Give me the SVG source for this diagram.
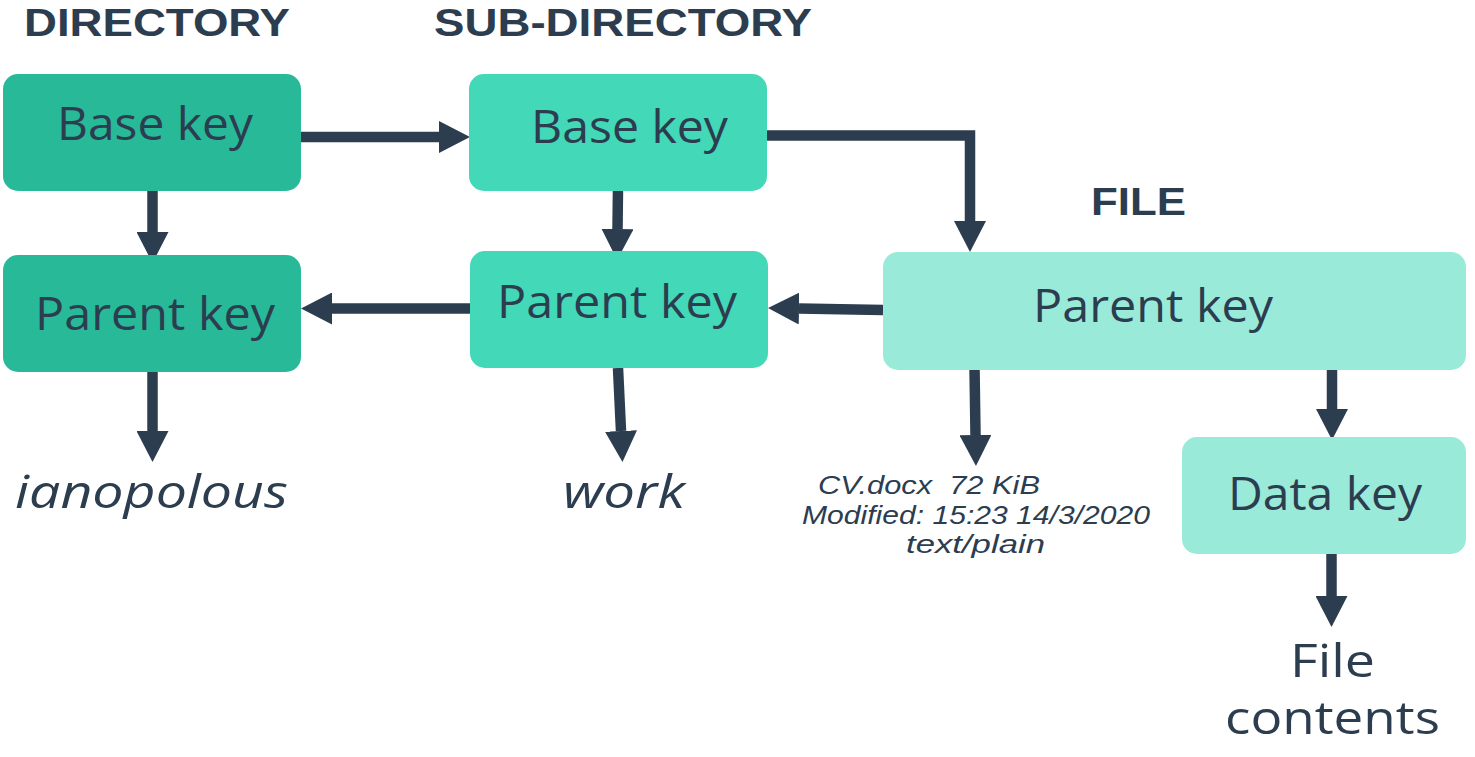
<svg xmlns="http://www.w3.org/2000/svg" width="1475" height="757" viewBox="0 0 1475 757">
<style>
.t{font-family:"Open Sans","Noto Sans",sans-serif;fill:#2C3D4F;text-anchor:middle;white-space:pre}
.h{font-family:"Liberation Sans",Arial,sans-serif;font-weight:bold;font-size:39px}
.k{font-size:46px}
.i{font-style:italic}
.m{font-family:"Liberation Sans",Arial,sans-serif;font-size:26px;font-style:italic}
.c{fill:none;stroke:#2C3D4F;stroke-width:10.5;marker-end:url(#ah)}
.d1{fill:#28B999}
.d2{fill:#42D8B8}
.d3{fill:#9AEAD9}
</style>
<defs>
<marker id="ah" viewBox="0 0 31 32" markerWidth="31" markerHeight="32" refX="0" refY="16" orient="auto" markerUnits="userSpaceOnUse">
<path d="M0,0 L31,16 L0,32 Z" fill="#2C3D4F"/>
</marker>
</defs>
<g id="titles">
<text class="t h" x="157" y="36" textLength="266" lengthAdjust="spacingAndGlyphs">DIRECTORY</text>
<text class="t h" x="623" y="36" textLength="378" lengthAdjust="spacingAndGlyphs">SUB-DIRECTORY</text>
<text class="t h" x="1138.5" y="215" textLength="95" lengthAdjust="spacingAndGlyphs">FILE</text>
</g>
<g id="connectors">
<path class="c" d="M301,137 H439"/>
<path class="c" d="M152.5,191 V232"/>
<path class="c" d="M152.5,372 V431"/>
<path class="c" d="M470,308.5 H332"/>
<path class="c" d="M618,188 L617.5,229"/>
<path class="c" d="M767,135.5 H970 V221"/>
<path class="c" d="M883,310 L799,308.5"/>
<path class="c" d="M618,368 L621,431"/>
<path class="c" d="M974.5,367 L975.5,435"/>
<path class="c" d="M1332,369 V409"/>
<path class="c" d="M1331.5,554 V596"/>
</g>
<g id="dir-base">
<rect class="d1" x="3" y="74" width="298" height="117" rx="15"/>
<text class="t k" x="155" y="140" textLength="196" lengthAdjust="spacingAndGlyphs">Base key</text>
</g>
<g id="dir-parent">
<rect class="d1" x="3" y="255" width="298" height="117" rx="15"/>
<text class="t k" x="155" y="330" textLength="240" lengthAdjust="spacingAndGlyphs">Parent key</text>
</g>
<g id="sub-base">
<rect class="d2" x="469" y="74" width="298" height="117" rx="15"/>
<text class="t k" x="629.5" y="143" textLength="197" lengthAdjust="spacingAndGlyphs">Base key</text>
</g>
<g id="sub-parent">
<rect class="d2" x="470" y="251" width="298" height="117" rx="15"/>
<text class="t k" x="617" y="318" textLength="240" lengthAdjust="spacingAndGlyphs">Parent key</text>
</g>
<g id="file-parent">
<rect class="d3" x="883" y="252" width="583" height="118" rx="15"/>
<text class="t k" x="1153" y="322" textLength="240" lengthAdjust="spacingAndGlyphs">Parent key</text>
</g>
<g id="data-key">
<rect class="d3" x="1182" y="437" width="284" height="117" rx="15"/>
<text class="t k" x="1325" y="510" textLength="194" lengthAdjust="spacingAndGlyphs">Data key</text>
</g>
<g id="ianopolous">
<text class="t k i" x="151.5" y="508" textLength="273" lengthAdjust="spacingAndGlyphs">ianopolous</text>
</g>
<g id="work">
<text class="t k i" x="624" y="508" textLength="122" lengthAdjust="spacingAndGlyphs">work</text>
</g>
<g id="metadata">
<text class="t m" x="929" y="494" textLength="222" lengthAdjust="spacingAndGlyphs">CV.docx  72 KiB</text>
<text class="t m" x="976" y="524" textLength="348" lengthAdjust="spacingAndGlyphs">Modified: 15:23 14/3/2020</text>
<text class="t m" x="975.5" y="553" textLength="139" lengthAdjust="spacingAndGlyphs">text/plain</text>
</g>
<g id="file-contents">
<text class="t k" x="1332.5" y="677" textLength="85" lengthAdjust="spacingAndGlyphs">File</text>
<text class="t k" x="1332.5" y="734" textLength="215" lengthAdjust="spacingAndGlyphs">contents</text>
</g>
</svg>
